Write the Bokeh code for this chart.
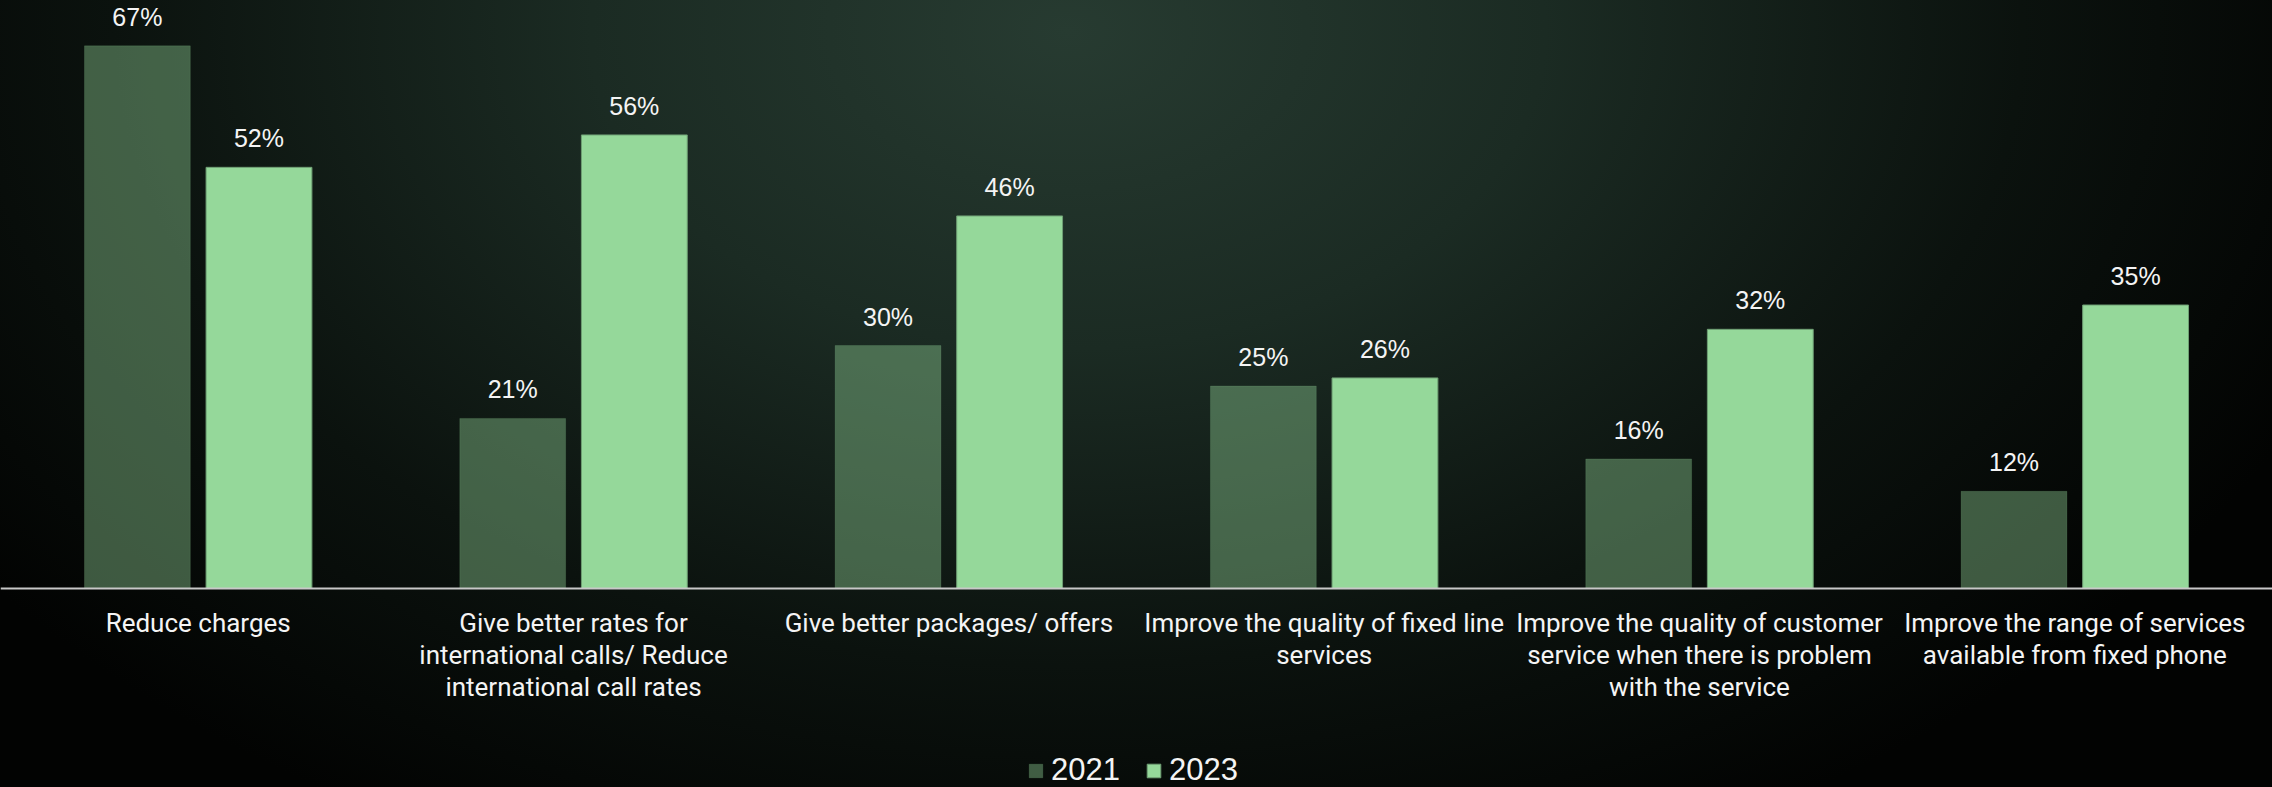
from bokeh.plotting import figure
from bokeh.models import ColumnDataSource, FactorRange, Range1d, Span, Legend, LegendItem, GlobalInlineStyleSheet
from bokeh.transform import dodge
from bokeh.core.properties import value
from bokeh.embed import file_html
from bokeh.resources import INLINE

categories = [
    "Reduce charges",
    "Give better rates for\ninternational calls/ Reduce\ninternational call rates",
    "Give better packages/ offers",
    "Improve the quality of fixed line\nservices",
    "Improve the quality of customer\nservice when there is problem\nwith the service",
    "Improve the range of services\navailable from fixed phone",
]
series_names = ["2021", "2023"]
values_2021 = [67, 21, 30, 25, 16, 12]
values_2023 = [52, 56, 46, 26, 32, 35]

src = ColumnDataSource(dict(
    cat=categories,
    v21=values_2021,
    v23=values_2023,
    l21=[f"{v}%" for v in values_2021],
    l23=[f"{v}%" for v in values_2023],
))

W, H = 2272, 787
p = figure(width=W, height=H, output_backend="svg", toolbar_location=None,
           x_range=FactorRange(factors=categories, range_padding=0.0089),
           y_range=Range1d(-24.57, 72.6),
           min_border=0, min_border_left=0, min_border_right=0,
           min_border_top=0, min_border_bottom=0)
p.axis.visible = False
p.grid.visible = False
p.outline_line_color = None
p.background_fill_alpha = 0
p.border_fill_alpha = 0
p.styles = {"background": "radial-gradient(ellipse 60% 115% at 47% 4%, #273b31 0%, #1b2b23 35%, #0b120e 70%, #020302 100%)"}
p.stylesheets = [GlobalInlineStyleSheet(css="html,body{margin:0;padding:0;overflow:hidden;background:#050806;}")]

light = "#95d89a"
r21 = p.vbar(x=dodge("cat", -0.162, range=p.x_range), top="v21", width=0.282, bottom=0,
             source=src, fill_color=light, fill_alpha=0.4, line_color=light, line_alpha=0.15, line_width=1)
r23 = p.vbar(x=dodge("cat", 0.162, range=p.x_range), top="v23", width=0.282, bottom=0,
             source=src, fill_color=light, fill_alpha=1.0, line_color="#6f9f74", line_width=1)

p.add_layout(Span(location=0, dimension="width", line_color="#c8c8c8", line_width=2))

lab_kw = dict(text_align="center", text_baseline="bottom", text_color="#f4f4f4",
              text_font=value("Liberation Sans"), text_font_size="25px", y_offset=-15, source=src)
p.text(x=dodge("cat", -0.162, range=p.x_range), y="v21", text="l21", **lab_kw)
p.text(x=dodge("cat", 0.162, range=p.x_range), y="v23", text="l23", **lab_kw)

p.text(x="cat", y=0, text="cat", source=src, text_align="center", text_baseline="top",
       text_color="#f4f4f4", text_font=value("Roboto"), text_font_size="26px",
       text_line_height=1.08, y_offset=19)

legend = Legend(items=[LegendItem(label=series_names[0], renderers=[r21]),
                       LegendItem(label=series_names[1], renderers=[r23])],
                location=(1027, -1), orientation="horizontal",
                glyph_width=17, glyph_height=17, label_standoff=7, spacing=25,
                padding=0, margin=0, label_text_font="Liberation Sans",
                label_text_font_size="31px", label_text_color="#f4f4f4",
                label_text_baseline="middle",
                background_fill_alpha=0, border_line_alpha=0)
p.add_layout(legend)

open("out.html", "w").write(file_html(p, INLINE))
